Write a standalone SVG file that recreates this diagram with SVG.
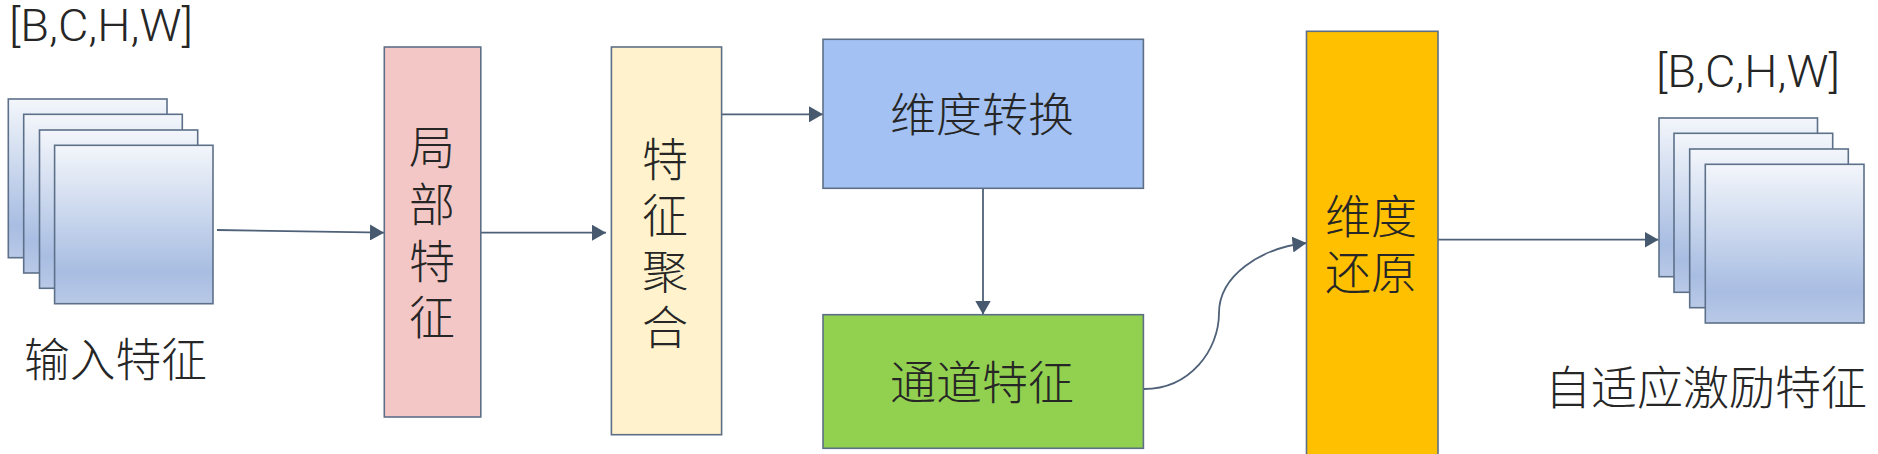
<svg xmlns="http://www.w3.org/2000/svg" width="1878" height="454" viewBox="0 0 1878 454">
<style>
.b{stroke:#5d6f87;stroke-width:1.6}
.s{fill:url(#g);stroke:#5d7089;stroke-width:1.6}
.c{fill:none;stroke:#4f6178;stroke-width:1.8}
text{font-family:"Noto Sans CJK SC","Noto Sans",sans-serif;font-weight:300;font-size:46px;fill:#262626}
.l{font-family:Roboto,"Noto Sans",sans-serif;font-weight:300;font-size:44px;fill:#262626}
</style>
<defs>
<linearGradient id="g" x1="0" y1="0" x2="0" y2="1">
<stop offset="0" stop-color="#f3f6fb"/><stop offset=".8" stop-color="#a8bde2"/><stop offset="1" stop-color="#b9c9e7"/>
</linearGradient>
<marker id="a" markerUnits="userSpaceOnUse" markerWidth="14" markerHeight="16" refX="14" refY="8" orient="auto">
<path d="M0 0L14 8L0 16Z" fill="#46596f"/>
</marker>
</defs>
<g id="connectors">
<path class="c" d="M217 230L384 232.7" marker-end="url(#a)"/>
<path class="c" d="M481 232.7L606 232.7" marker-end="url(#a)"/>
<path class="c" d="M722 114.3L823 114.3" marker-end="url(#a)"/>
<path class="c" d="M983 188.5L983 314.5" marker-end="url(#a)"/>
<path class="c" d="M1144 389C1190 389 1219 350 1219 313C1219 276 1260 248 1306.5 243" marker-end="url(#a)"/>
<path class="c" d="M1438 239.7L1658.5 239.7" marker-end="url(#a)"/>
</g>
<g id="input-stack">
<rect class="s" x="8.3" y="99" width="158.7" height="158.7"/>
<rect class="s" x="23.7" y="114.3" width="158.6" height="158.7"/>
<rect class="s" x="39.5" y="130" width="158.2" height="158.3"/>
<rect class="s" x="54.6" y="145.3" width="158.4" height="158.4"/>
<text class="l" x="9" y="41" textLength="184" lengthAdjust="spacingAndGlyphs">[B,C,H,W]</text>
<text x="24" y="376" textLength="183" lengthAdjust="spacingAndGlyphs">输入特征</text>
</g>
<g id="local">
<rect class="b" x="384.3" y="47" width="96.5" height="370" fill="#f4c7c7"/>
<text><tspan x="409" y="164">局</tspan><tspan x="409" y="221">部</tspan><tspan x="409" y="278">特</tspan><tspan x="409" y="334">征</tspan></text>
</g>
<g id="aggregate">
<rect class="b" x="611.4" y="47" width="110.2" height="387.7" fill="#fff2cc"/>
<text><tspan x="642" y="176">特</tspan><tspan x="642" y="232">征</tspan><tspan x="642" y="288">聚</tspan><tspan x="642" y="344">合</tspan></text>
</g>
<g id="convert">
<rect class="b" x="823" y="39.3" width="320.4" height="149" fill="#a3c1f2"/>
<text x="890" y="131" textLength="184" lengthAdjust="spacingAndGlyphs">维度转换</text>
</g>
<g id="channel">
<rect class="b" x="823" y="314.7" width="320.4" height="133.6" fill="#92d050"/>
<text x="890" y="399" textLength="184" lengthAdjust="spacingAndGlyphs">通道特征</text>
</g>
<g id="restore">
<rect class="b" x="1306.5" y="31.3" width="131.5" height="430" fill="#ffc000"/>
<text><tspan x="1325" y="233">维度</tspan><tspan x="1325" y="289">还原</tspan></text>
</g>
<g id="output-stack">
<rect class="s" x="1659" y="118" width="158.5" height="158.7"/>
<rect class="s" x="1674" y="133.3" width="158.7" height="159"/>
<rect class="s" x="1689.7" y="149" width="158.6" height="158.7"/>
<rect class="s" x="1705.3" y="164.3" width="158.7" height="158.7"/>
<text class="l" x="1656" y="87" textLength="184" lengthAdjust="spacingAndGlyphs">[B,C,H,W]</text>
<text x="1545" y="404" textLength="322" lengthAdjust="spacingAndGlyphs">自适应激励特征</text>
</g>
</svg>
